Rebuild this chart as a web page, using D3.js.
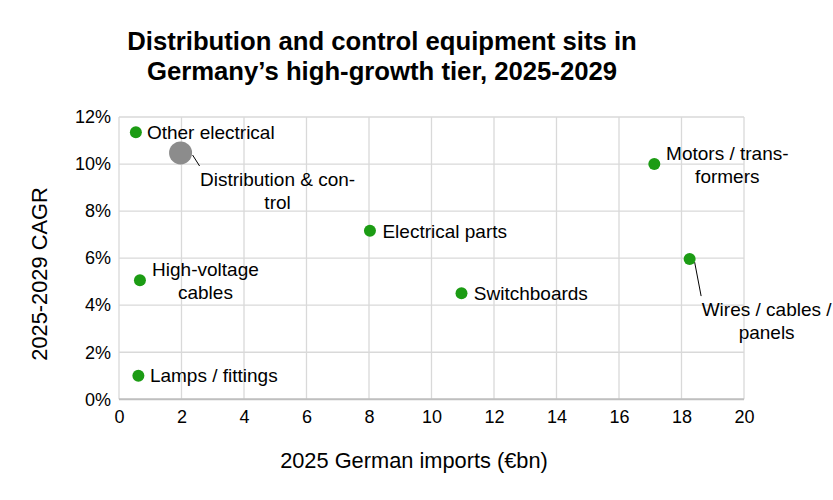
<!DOCTYPE html>
<html>
<head>
<meta charset="utf-8">
<script src="https://cdn.jsdelivr.net/npm/d3@7"></script>
<style>
  body { margin: 0; background: #fff; }
  text { font-family: "Liberation Sans", Arial, sans-serif; fill: #000; }
</style>
</head>
<body>
<svg id="grafico"></svg>
<script>
// dados do gráfico
const categorias = ['Other electrical', 'Distribution & control', 'Electrical parts', 'High-voltage cables',
  'Lamps / fittings', 'Motors / transformers', 'Wires / cables / panels', 'Switchboards'];
const importacoes = [0.54, 1.97, 8.03, 0.67, 0.62, 17.13, 18.26, 10.96]; // €bn
const cagr = [0.1135, 0.1047, 0.0716, 0.0506, 0.0100, 0.1000, 0.0596, 0.0451];
const destaque = ['Distribution & control'];
const ticksX = [0, 2, 4, 6, 8, 10, 12, 14, 16, 18, 20];
const ticksY = [0, 0.02, 0.04, 0.06, 0.08, 0.10, 0.12];

// rótulos: linhas de texto e deslocamento em relação ao ponto
const rotulos = {
  'Other electrical': { linhas: ['Other electrical'], anchor: 'start', dx: 11, dy: 6.5 },
  'Distribution & control': { linhas: ['Distribution & con-', 'trol'], anchor: 'middle', dx: 97, dy: 33, guia: [[12, 2], [19, 13]] },
  'Electrical parts': { linhas: ['Electrical parts'], anchor: 'start', dx: 12.5, dy: 7 },
  'High-voltage cables': { linhas: ['High-voltage', 'cables'], anchor: 'middle', dx: 65.5, dy: -4.5 },
  'Lamps / fittings': { linhas: ['Lamps / fittings'], anchor: 'start', dx: 11.5, dy: 6.5 },
  'Motors / transformers': { linhas: ['Motors / trans-', 'formers'], anchor: 'middle', dx: 73, dy: -4.5 },
  'Wires / cables / panels': { linhas: ['Wires / cables /', 'panels'], anchor: 'middle', dx: 77, dy: 56.5, guia: [[5, 3], [11.5, 37]] },
  'Switchboards': { linhas: ['Switchboards'], anchor: 'start', dx: 12.3, dy: 6.7 }
};

const largura = 833, altura = 500;
const margem = { esq: 119, dir: 744, topo: 117, base: 399.3 };

let svg = d3.select('#grafico')
  .attr('width', largura)
  .attr('height', altura);

let fnX = d3.scaleLinear().domain([0, 20]).range([margem.esq, margem.dir]);
let fnY = d3.scaleLinear().domain([0, 0.12]).range([margem.base, margem.topo]);

// título
svg.append('text')
  .attr('x', 382).attr('y', 50)
  .attr('text-anchor', 'middle')
  .style('font-size', '25.7px').style('font-weight', 'bold')
  .selectAll('tspan')
  .data(['Distribution and control equipment sits in', 'Germany\u2019s high-growth tier, 2025-2029'])
  .enter().append('tspan')
  .attr('x', 382)
  .attr('dy', (d, i) => i === 0 ? 0 : 30)
  .text(d => d);

// grade
let grade = svg.append('g');
grade.selectAll('.gx').data(ticksX).enter().append('line')
  .attr('x1', d => fnX(d)).attr('x2', d => fnX(d))
  .attr('y1', fnY(0.12)).attr('y2', fnY(0))
  .attr('stroke', '#d9d9d9').attr('stroke-width', 1.3);
grade.selectAll('.gy').data(ticksY).enter().append('line')
  .attr('x1', fnX(0)).attr('x2', fnX(20))
  .attr('y1', d => fnY(d)).attr('y2', d => fnY(d))
  .attr('stroke', '#d9d9d9').attr('stroke-width', 1.3);
// linha do eixo x
svg.append('line')
  .attr('x1', fnX(0)).attr('x2', fnX(20))
  .attr('y1', fnY(0)).attr('y2', fnY(0))
  .attr('stroke', '#bfbfbf').attr('stroke-width', 2);

// eixos
let eixoX = svg.append('g')
  .attr('transform', `translate(0, ${fnY(0)})`)
  .call(d3.axisBottom(fnX).tickValues(ticksX).tickSize(0).tickPadding(11).tickFormat(d3.format('d')));
let eixoY = svg.append('g')
  .attr('transform', `translate(${fnX(0)}, 0)`)
  .call(d3.axisLeft(fnY).tickValues(ticksY).tickSize(0).tickPadding(8).tickFormat(d3.format('.0%')));
[eixoX, eixoY].forEach(e => {
  e.select('.domain').remove();
  e.selectAll('text').style('font-size', '18px').style('font-family', '"Liberation Sans", Arial, sans-serif').attr('fill', '#000');
});

// títulos dos eixos
svg.append('text')
  .attr('x', 414).attr('y', 467.7)
  .attr('text-anchor', 'middle')
  .style('font-size', '21.8px')
  .text('2025 German imports (\u20acbn)');
svg.append('text')
  .attr('transform', 'translate(46.7, 274) rotate(-90)')
  .attr('text-anchor', 'middle')
  .style('font-size', '21.8px')
  .text('2025-2029 CAGR');

// pontos
let dados = categorias.map((c, i) => ({ nome: c, x: importacoes[i], y: cagr[i] }));

let linhasGuia = svg.append('g');
dados.forEach(d => {
  let r = rotulos[d.nome];
  if (r.guia) {
    linhasGuia.append('line')
      .attr('x1', fnX(d.x) + r.guia[0][0]).attr('y1', fnY(d.y) + r.guia[0][1])
      .attr('x2', fnX(d.x) + r.guia[1][0]).attr('y2', fnY(d.y) + r.guia[1][1])
      .attr('stroke', '#000').attr('stroke-width', 1);
  }
});

svg.append('g').selectAll('circle')
  .data(dados)
  .enter().append('circle')
  .attr('cx', d => fnX(d.x))
  .attr('cy', d => fnY(d.y))
  .attr('r', d => destaque.includes(d.nome) ? 11.5 : 6)
  .attr('fill', d => destaque.includes(d.nome) ? '#8c8c8c' : '#1c9c14');

// rótulos dos pontos
svg.append('g').selectAll('text')
  .data(dados)
  .enter().append('text')
  .attr('text-anchor', d => rotulos[d.nome].anchor)
  .style('font-size', '19px')
  .each(function (d) {
    let r = rotulos[d.nome];
    d3.select(this).selectAll('tspan')
      .data(r.linhas)
      .enter().append('tspan')
      .attr('x', fnX(d.x) + r.dx)
      .attr('y', (l, i) => fnY(d.y) + r.dy + i * 23)
      .text(l => l);
  });
</script>
</body>
</html>
